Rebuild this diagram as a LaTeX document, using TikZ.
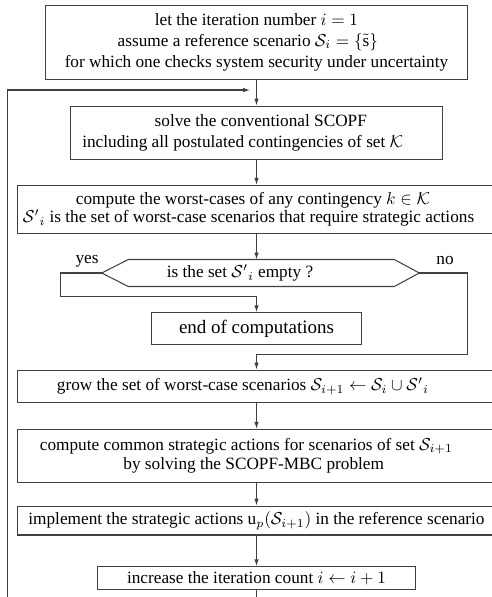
\documentclass[tikz,border=0pt]{standalone}
\usepackage{fontspec}
\setmainfont{Liberation Serif}
\usetikzlibrary{arrows.meta,calc}
\newcommand\shft[2]{\hspace*{#1}#2\hspace*{-#1}}
\begin{document}
\begin{tikzpicture}[x=0.58pt,y=-0.58pt,
  box/.style={draw=black!75, line width=0.6pt, inner sep=0pt, align=center, font=\fontsize{10}{12}\selectfont},
  txt/.style={inner sep=0pt, font=\fontsize{10}{12}\selectfont},
  arr/.style={draw=black!75, line width=0.6pt, -{Latex[length=4pt,width=2.6pt]}},
  ln/.style={draw=black!75, line width=0.6pt}]
\useasboundingbox (0,0) rectangle (492,597);
\clip (0,0) rectangle (492,597);

\node[box, minimum width=245.3pt, minimum height=43.1pt] (b1) at (256.5,42.2)
  {let the iteration number $i=1$\\ \shft{-10pt}{assume a reference scenario $\mathcal{S}_i=\{\tilde{\mathrm{s}}\}$}\\ for which one checks system security under uncertainty};
\node[box, minimum width=215.6pt, minimum height=30.9pt] (b2) at (256.5,132.7)
  {\shft{2.5pt}{solve the conventional SCOPF}\\ \shft{-8pt}{including all postulated contingencies of set $\mathcal{K}$}};
\node[box, font=\fontsize{10}{11}\selectfont, minimum width=277.6pt, minimum height=27.8pt] (b3) at (256.5,209.3)
  {\shft{-2pt}{compute the worst-cases of any contingency $k\in\mathcal{K}$}\\ \shft{-4.6pt}{${\mathcal{S}'}_i$ is the set of worst-case scenarios that require strategic actions}};

% decision hexagon
\coordinate (hL) at (101.7,273);
\coordinate (hTL) at (128.3,259.5);
\coordinate (hTR) at (394.3,259.5);
\coordinate (hR) at (419.3,273);
\coordinate (hBR) at (394.3,286.5);
\coordinate (hBL) at (128.3,286.5);
\coordinate (hT) at (256.5,259.5);
\draw[ln] (hL) -- (hTL) -- (hTR) -- (hR) -- (hBR) -- (hBL) -- cycle;
\node[txt] (q) at (240,273) {is the set ${\mathcal{S}'}_i$ empty ?};
\node[txt] (yes) at (87,261) {yes};
\node[txt] (no) at (445,261) {no};

\node[box, font=\fontsize{11}{13}\selectfont, minimum width=121.8pt, minimum height=18.7pt] (end) at (256.5,328.8)
  {end of computations};
\node[box, minimum width=277.6pt, minimum height=18.7pt] (b4) at (256.5,386.2)
  {\shft{-7.9pt}{grow the set of worst-case scenarios $\mathcal{S}_{i+1}\leftarrow\mathcal{S}_i\cup{\mathcal{S}'}_i$}};
\node[box, font=\fontsize{10}{11.2}\selectfont, minimum width=277.6pt, minimum height=30.6pt] (b5) at (256.5,455.7)
  {\shft{-5.9pt}{compute common strategic actions for scenarios of set $\mathcal{S}_{i+1}$}\\ \shft{-1.6pt}{by solving the SCOPF-MBC problem}};
\node[box, minimum width=277.6pt, minimum height=16.8pt] (b6) at (256.5,520.5)
  {implement the strategic actions $\mathrm{u}_p(\mathcal{S}_{i+1})$ in the reference scenario};
\node[box, minimum width=184pt, minimum height=13.1pt] (b7) at (256.5,578)
  {increase the iteration count $i\leftarrow i+1$};

% routing points
\coordinate (yA) at (60.3,273);
\coordinate (yB) at (60.3,296.7);
\coordinate (yC) at (256.5,296.7);
\coordinate (nA) at (467.7,273);
\coordinate (nB) at (467.7,354.3);
\coordinate (nC) at (256.5,354.3);
\coordinate (lA) at (256.5,620);
\coordinate (lB) at (7.3,620);
\coordinate (lC) at (7.3,90);
\coordinate (lD) at (250,90);

\draw[arr] (b1.south) -- (b2.north);
\draw[arr] (b2.south) -- (b3.north);
\draw[arr] (b3.south) -- (hT);
\draw[arr] (hL) -- (yA) -- (yB) -- (yC) -- (end.north);
\draw[arr] (hR) -- (nA) -- (nB) -- (nC) -- (b4.north);
\draw[arr] (b4.south) -- (b5.north);
\draw[arr] (b5.south) -- (b6.north);
\draw[arr] (b6.south) -- (b7.north);
\draw[arr] (b7.south) -- (lA) -- (lB) -- (lC) -- (lD);
\end{tikzpicture}
\end{document}
